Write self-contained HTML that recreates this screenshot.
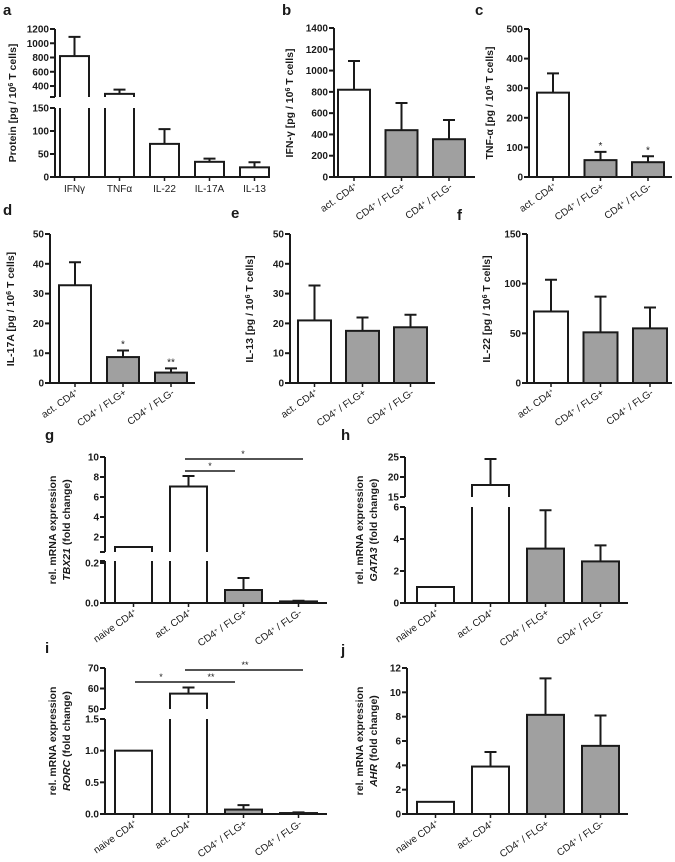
<!DOCTYPE html>
<html><head><meta charset="utf-8"><style>
html,body{margin:0;padding:0;background:#fff;}
svg text{font-family:"Liberation Sans",Arial,sans-serif;fill:#1a1a1a;}
</style></head><body>
<svg id="fig" width="675" height="857" viewBox="0 0 675 857" xmlns="http://www.w3.org/2000/svg"></svg>
<script>
// ---- data ----
const catsA = ["IFNγ","TNFα","IL-22","IL-17A","IL-13"];
const valsA = [820, 290, 72, 33, 21];
const errA = [270, 60, 32, 7, 11];
const catsProt = ["act. CD4|+", "CD4|+| / FLG+", "CD4|+| / FLG-"];
const valsB = [820, 440, 355]; const errB = [270, 255, 180];
const valsC = [285, 57, 50]; const errC = [65, 28, 20];
const valsD = [32.8, 8.7, 3.5]; const errD = [7.7, 2.2, 1.4];
const valsE = [21, 17.5, 18.7]; const errE = [11.7, 4.5, 4.2];
const valsF = [72, 51, 55]; const errF = [32, 36, 21];
const catsRna = ["naive CD4|+", "act. CD4|+", "CD4|+| / FLG+", "CD4|+| / FLG-"];
const valsG = [1, 7.05, 0.065, 0.008]; const errG = [0, 1.05, 0.06, 0.003];
const valsH = [1, 18, 3.4, 2.6]; const errH = [0, 6.5, 2.4, 1.0];
const valsI = [1, 57.5, 0.07, 0.015]; const errI = [0, 3, 0.07, 0.01];
const valsJ = [1, 3.9, 8.15, 5.6]; const errJ = [0, 1.2, 3.0, 2.5];
const fillsProt = ["#fff", "#a0a0a0", "#a0a0a0"];
const fillsRna = ["#fff", "#fff", "#a0a0a0", "#a0a0a0"];

const NS = "http://www.w3.org/2000/svg";
const svg = document.getElementById('fig');
let clipId = 0;
function mk(tag, attrs, parent) {
  const e = document.createElementNS(NS, tag);
  for (const k in attrs) e.setAttribute(k, attrs[k]);
  (parent || svg).appendChild(e);
  return e;
}
function label(parent, txt, x, y, opts) {
  const t = mk('text', Object.assign({x: x, y: y, 'font-size': 10, 'font-weight': 'bold'}, opts || {}), parent);
  const parts = txt.split('|');
  parts.forEach((p, i) => {
    const s = mk('tspan', {}, t);
    if (i % 2 === 1) { s.setAttribute('baseline-shift', 'super'); s.setAttribute('font-size', '6'); }
    s.textContent = p;
  });
  return t;
}
function panel(p) {
  const g = mk('g', {});
  
  
  const n = p.vals.length;
  const baseY = p.segs[0].yLo;
  const xa = mk('line', {x1: p.ax - 1, x2: p.axEnd, y1: baseY, y2: baseY, stroke: '#1a1a1a', 'stroke-width': 2}, g);
  
  
  p.segs.forEach((s, si) => {
    const ys = v => s.yLo + (v - s.lo) * (s.yHi - s.yLo) / (s.hi - s.lo);
    const al = mk('line', {x1: p.ax, x2: p.ax, y1: s.yLo + (si === 0 ? 1 : 0), y2: s.yHi, stroke: '#1a1a1a', 'stroke-width': 2}, g);
    
    
    if (si > 0) mk('line', {x1: p.ax - 5, x2: p.ax, y1: s.yLo, y2: s.yLo, stroke: '#1a1a1a', 'stroke-width': 2}, g);
    if (si < p.segs.length - 1) mk('line', {x1: p.ax - 5, x2: p.ax, y1: s.yHi, y2: s.yHi, stroke: '#1a1a1a', 'stroke-width': 2}, g);
    s.ticks.forEach(t => {
      const y = ys(t);
      mk('line', {x1: p.ax - 5, x2: p.ax, y1: y, y2: y, stroke: '#1a1a1a', 'stroke-width': 2}, g);
      const tl = mk('text', {x: p.ax - 6, y: y + 3.5, 'font-size': 10, 'font-weight': 'bold', 'text-anchor': 'end'}, g);
      
      
      tl.textContent = s.fmt ? t.toFixed(s.fmt) : t;
    });
    const cid = 'c' + (clipId++);
    const cp = mk('clipPath', {id: cid}, g);
    const top = si === p.segs.length - 1 ? 0 : s.yHi;
    mk('rect', {x: p.ax, y: top, width: 400, height: s.yLo + (si === 0 ? 2 : 0) - top}, cp);
    const cg = mk('g', {'clip-path': 'url(#' + cid + ')'}, g);
    for (let i = 0; i < n; i++) {
      const x0 = p.first + i * p.step;
      const v = p.vals[i], e = p.errs[i];
      const yTop = ys(v);
      const yBot = si === 0 ? s.yLo : s.yLo + 20;
      if (yTop < yBot) {
        const r = mk('rect', {x: x0, y: yTop, width: p.bw, height: yBot - yTop, fill: p.fills[i], stroke: '#1a1a1a', 'stroke-width': 2}, cg);
        
        
      }
      if (e > 0) {
        const cx = x0 + p.bw / 2, ye = ys(v + e);
        const el = mk('path', {d: `M${cx},${yTop}V${ye}M${cx - 6},${ye}H${cx + 6}`, stroke: '#1a1a1a', 'stroke-width': 2, fill: 'none'}, cg);
        
        
        if (p.stars && p.stars[i] && si === p.segs.length - 1) {
          const st = mk('text', {x: cx, y: ye - 3, 'font-size': 10, 'text-anchor': 'middle'}, g);
          
          
          st.textContent = p.stars[i];
        }
      }
    }
  });
  for (let i = 0; i < n; i++) {
    const cx = p.first + i * p.step + p.bw / 2;
    mk('line', {x1: cx, x2: cx, y1: baseY, y2: baseY + 4, stroke: '#1a1a1a', 'stroke-width': 1.5}, g);
    let t;
    if (p.straight) {
      t = label(g, p.cats[i], cx, baseY + 15, {'text-anchor': 'middle', 'font-weight': 'normal', 'font-size': 10});
    } else {
      t = label(g, p.cats[i], cx + 4, baseY + 11, {'text-anchor': 'end', 'font-weight': 'normal', 'font-size': 10, transform: `rotate(-35 ${cx + 4} ${baseY + 11})`});
    }
    
    
  }
  const yt = mk('text', {'font-size': 10.5, 'font-weight': 'bold', 'text-anchor': 'middle', transform: `translate(${p.tx},${p.ty}) rotate(-90)`}, g);
  
  
  p.title.forEach((line, li) => {
    const s = mk('tspan', {x: 0, dy: li === 0 ? 0 : 14}, yt);
    line.forEach(part => {
      const q = mk('tspan', {}, s);
      if (part.sup) { q.setAttribute('baseline-shift', 'super'); q.setAttribute('font-size', '7'); }
      if (part.it) q.setAttribute('font-style', 'italic');
      q.textContent = part.t;
    });
  });
  const L = mk('text', {x: p.lx, y: p.ly, 'font-size': 15, 'font-weight': 'bold'}, g);
  
  
  L.textContent = p.letter;
  (p.sig || []).forEach(b => {
    const sl = mk('line', {x1: b.x1, x2: b.x2, y1: b.y, y2: b.y, stroke: '#1a1a1a', 'stroke-width': 1.5}, g);
    
    
    const st = mk('text', {x: b.sx, y: b.y - 2, 'font-size': 9, 'text-anchor': 'middle'}, g);
    
    
    st.textContent = b.s;
  });
}
const prot = lab => [[{t: lab + ' [pg / 10'}, {t: '6', sup: 1}, {t: ' T cells]'}]];
const rna = gene => [[{t: 'rel. mRNA expression'}], [{t: gene, it: 1}, {t: ' (fold change)'}]];

panel({name: 'panel-a', letter: 'a', lx: 3, ly: 15, ax: 55, axEnd: 270, first: 60, step: 45, bw: 29,
  cats: catsA, vals: valsA, errs: errA, fills: ["#fff","#fff","#fff","#fff","#fff"], straight: true,
  segs: [{lo: 0, hi: 150, yLo: 177, yHi: 108, ticks: [0, 50, 100, 150]},
         {lo: 246, hi: 1200, yLo: 97, yHi: 29, ticks: [400, 600, 800, 1000, 1200]}],
  title: prot('Protein'), tx: 16, ty: 103});
panel({name: 'panel-b', letter: 'b', lx: 282, ly: 15, ax: 334, axEnd: 475, first: 338, step: 47.5, bw: 32,
  cats: catsProt, vals: valsB, errs: errB, fills: fillsProt,
  segs: [{lo: 0, hi: 1400, yLo: 177, yHi: 28, ticks: [0, 200, 400, 600, 800, 1000, 1200, 1400]}],
  title: [[{t: 'IFN-γ [pg / 10'}, {t: '6', sup: 1}, {t: ' T cells]'}]], tx: 293, ty: 103});
panel({name: 'panel-c', letter: 'c', lx: 475, ly: 15, ax: 529, axEnd: 672, first: 537, step: 47.5, bw: 32,
  cats: catsProt, vals: valsC, errs: errC, fills: fillsProt, stars: [null, '*', '*'],
  segs: [{lo: 0, hi: 500, yLo: 177, yHi: 29, ticks: [0, 100, 200, 300, 400, 500]}],
  title: [[{t: 'TNF-α [pg / 10'}, {t: '6', sup: 1}, {t: ' T cells]'}]], tx: 493, ty: 103});
panel({name: 'panel-d', letter: 'd', lx: 3, ly: 215, ax: 50, axEnd: 195, first: 59, step: 48, bw: 32,
  cats: catsProt, vals: valsD, errs: errD, fills: fillsProt, stars: [null, '*', '**'],
  segs: [{lo: 0, hi: 50, yLo: 383, yHi: 234, ticks: [0, 10, 20, 30, 40, 50]}],
  title: prot('IL-17A'), tx: 14, ty: 309});
panel({name: 'panel-e', letter: 'e', lx: 231, ly: 218, ax: 290, axEnd: 435, first: 298, step: 48, bw: 33,
  cats: catsProt, vals: valsE, errs: errE, fills: fillsProt,
  segs: [{lo: 0, hi: 50, yLo: 383, yHi: 234, ticks: [0, 10, 20, 30, 40, 50]}],
  title: prot('IL-13'), tx: 253, ty: 309});
panel({name: 'panel-f', letter: 'f', lx: 457, ly: 220, ax: 527, axEnd: 672, first: 534, step: 49.5, bw: 34,
  cats: catsProt, vals: valsF, errs: errF, fills: fillsProt,
  segs: [{lo: 0, hi: 150, yLo: 383, yHi: 234, ticks: [0, 50, 100, 150]}],
  title: prot('IL-22'), tx: 490, ty: 309});
panel({name: 'panel-g', letter: 'g', lx: 45, ly: 440, ax: 105, axEnd: 327, first: 115, step: 55, bw: 37,
  cats: catsRna, vals: valsG, errs: errG, fills: fillsRna,
  segs: [{lo: 0, hi: 0.21, yLo: 603, yHi: 561, ticks: [0, 0.2], fmt: 1},
         {lo: 0.5, hi: 10, yLo: 552, yHi: 457, ticks: [2, 4, 6, 8, 10]}],
  title: rna('TBX21'), tx: 56, ty: 530,
  sig: [{x1: 185, x2: 235, y: 471, s: '*', sx: 210}, {x1: 185, x2: 303, y: 459, s: '*', sx: 243}]});
panel({name: 'panel-h', letter: 'h', lx: 341, ly: 440, ax: 405, axEnd: 628, first: 417, step: 55, bw: 37,
  cats: catsRna, vals: valsH, errs: errH, fills: fillsRna,
  segs: [{lo: 0, hi: 6, yLo: 603, yHi: 507, ticks: [0, 2, 4, 6]},
         {lo: 15, hi: 25, yLo: 497, yHi: 457, ticks: [15, 20, 25]}],
  title: rna('GATA3'), tx: 363, ty: 530});
panel({name: 'panel-i', letter: 'i', lx: 45, ly: 653, ax: 105, axEnd: 327, first: 115, step: 55, bw: 37,
  cats: catsRna, vals: valsI, errs: errI, fills: fillsRna,
  segs: [{lo: 0, hi: 1.5, yLo: 814, yHi: 719, ticks: [0, 0.5, 1, 1.5], fmt: 1},
         {lo: 50, hi: 70, yLo: 709, yHi: 668, ticks: [50, 60, 70]}],
  title: rna('RORC'), tx: 56, ty: 741,
  sig: [{x1: 135, x2: 185, y: 682, s: '*', sx: 161}, {x1: 185, x2: 235, y: 682, s: '**', sx: 211}, {x1: 185, x2: 303, y: 670, s: '**', sx: 245}]});
panel({name: 'panel-j', letter: 'j', lx: 341, ly: 655, ax: 407, axEnd: 628, first: 417, step: 55, bw: 37,
  cats: catsRna, vals: valsJ, errs: errJ, fills: fillsRna,
  segs: [{lo: 0, hi: 12, yLo: 814, yHi: 668, ticks: [0, 2, 4, 6, 8, 10, 12]}],
  title: rna('AHR'), tx: 363, ty: 741});
</script>
</body></html>
